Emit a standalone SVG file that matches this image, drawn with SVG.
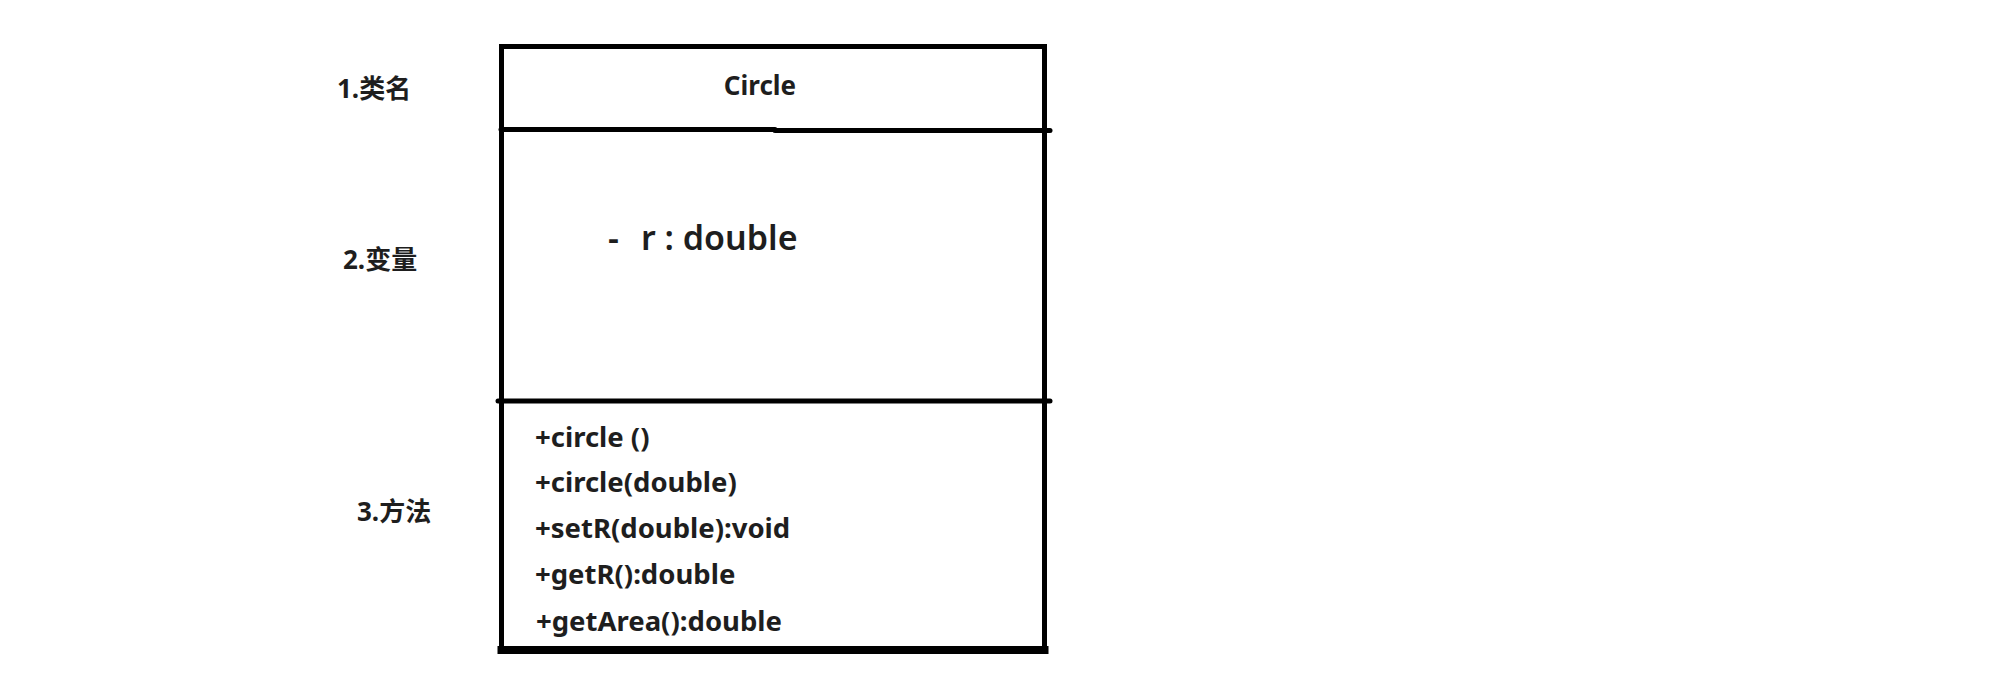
<svg xmlns="http://www.w3.org/2000/svg" width="2015" height="681" viewBox="0 0 2015 681">
  <style>
    .bd { stroke: #000; fill: none; stroke-linecap: square; }
    .dv { stroke: #000; fill: none; stroke-linecap: round; stroke-width: 5; }
    .lbl { font-family: "Noto Sans", "Noto Sans CJK SC", sans-serif; font-weight: bold; font-size: 26px; fill: #1e1e1e; }
    .ttl { font-family: "Noto Sans", "Noto Sans CJK SC", sans-serif; font-weight: bold; font-size: 26px; fill: #1e1e1e; }
    .attr { font-family: "Noto Sans", sans-serif; font-weight: 600; font-size: 34px; fill: #1e1e1e; }
    .mth { font-family: "Noto Sans", sans-serif; font-weight: bold; font-size: 27.5px; fill: #1e1e1e; }
  </style>
  <rect width="2015" height="681" fill="#fff"/>
  <g id="section-labels">
    <g id="label-classname"><text class="lbl" x="337" y="98">1.类名</text></g>
    <g id="label-variables"><text class="lbl" x="343" y="269">2.变量</text></g>
    <g id="label-methods"><text class="lbl" x="357" y="521">3.方法</text></g>
  </g>
  <g id="class-circle">
    <line class="bd" x1="501.5" y1="46.5" x2="1044.5" y2="46.5" stroke-width="5"/>
    <line class="bd" x1="501.5" y1="46.5" x2="501.5" y2="650" stroke-width="5"/>
    <line class="bd" x1="1044.5" y1="46.5" x2="1044.5" y2="650" stroke-width="5"/>
    <line class="bd" x1="501.5" y1="650" x2="1044.5" y2="650" stroke-width="8"/>
    <line class="dv" x1="501" y1="129.5" x2="775" y2="129.5"/>
    <line class="dv" x1="775" y1="130.5" x2="1050" y2="130.5"/>
    <line class="dv" x1="498" y1="401" x2="1050" y2="401"/>
    <text class="ttl" x="760" y="95" text-anchor="middle">Circle</text>
    <text class="attr" x="608" y="250">-</text>
    <text class="attr" x="641" y="250">r : double</text>
    <text class="mth" x="535" y="447">+circle ()</text>
    <text class="mth" x="535" y="492">+circle(double)</text>
    <text class="mth" x="535" y="538">+setR(double):void</text>
    <text class="mth" x="535" y="584">+getR():double</text>
    <text class="mth" x="536" y="631">+getArea():double</text>
  </g>
  <g id="connectors"/>
</svg>
